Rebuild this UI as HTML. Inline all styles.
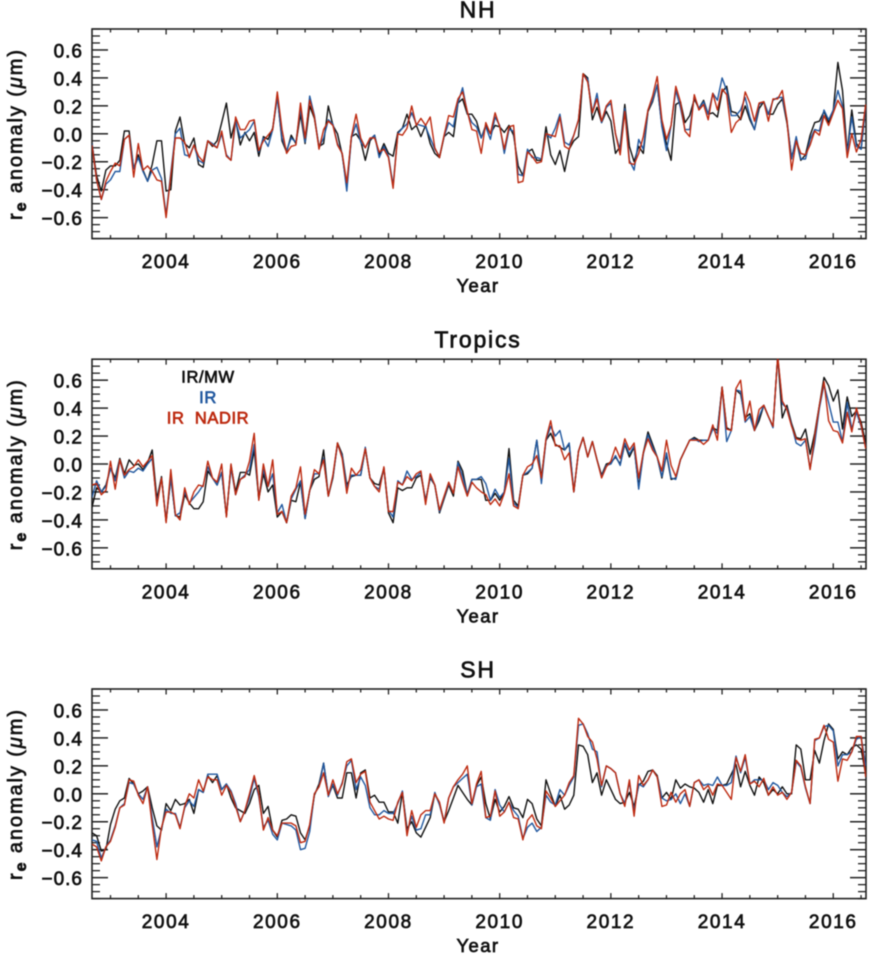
<!DOCTYPE html>
<html lang="en">
<head>
<meta charset="utf-8">
<title>Effective radius anomaly time series</title>
<style>
html,body{margin:0;padding:0;background:#fff;}
#figure{display:block;width:880px;height:960px;filter:blur(0.45px);}
text{font-family:"Liberation Sans",sans-serif;fill:#111;stroke:#111;stroke-width:0.7px;}
</style>
</head>
<body>
<svg id="figure" xmlns="http://www.w3.org/2000/svg" width="880" height="960" viewBox="0 0 880 960">
  <defs>
    <clipPath id="clip-nh"><rect x="92" y="29" width="774" height="210"></rect></clipPath>
    <clipPath id="clip-tropics"><rect x="92" y="359" width="774" height="210"></rect></clipPath>
    <clipPath id="clip-sh"><rect x="92" y="689" width="774" height="210"></rect></clipPath>
  </defs>
</svg>
<script>
const startYear = 2002.667;
const monthsPerYear = 12;
const xTickYears = [2003,2003.5,2004,2004.5,2005,2005.5,2006,2006.5,2007,2007.5,2008,2008.5,2009,2009.5,2010,2010.5,2011,2011.5,2012,2012.5,2013,2013.5,2014,2014.5,2015,2015.5,2016,2016.5];
const xLabelYears = [2004,2006,2008,2010,2012,2014,2016];
const yLabelValues = [0.6,0.4,0.2,0.0,-0.2,-0.4,-0.6];
const yMinorValues = [0.75,0.7,0.65,0.55,0.5,0.45,0.35,0.3,0.25,0.15,0.1,0.05,-0.05,-0.1,-0.15,-0.25,-0.3,-0.35,-0.45,-0.5,-0.55,-0.65,-0.7,-0.75];
const legendLabels = ["IR/MW","IR","IR  NADIR"];

const nhBlack = [
-.07,-.30,-.41,-.26,-.23,-.23,-.19,.02,.02,-.25,
-.15,-.26,-.34,-.22,-.05,-.05,-.41,-.40,.02,.12,
-.07,-.10,-.03,-.22,-.24,-.05,-.09,-.05,.08,.22,
-.03,.10,-.08,.01,-.05,.01,-.16,-.02,-.04,.04,
.27,-.05,-.13,-.01,-.07,.14,-.07,.20,.11,-.09,
-.07,.20,.06,0,-.15,-.38,-.02,0,-.05,-.19,
-.05,-.01,-.15,-.07,-.14,-.16,.01,.04,.14,.03,
.06,-.02,.06,-.07,-.14,-.17,-.02,.01,-.02,.22,
.25,.14,.14,.09,-.03,.06,0,.06,.05,.01,
.06,-.01,-.23,-.30,-.13,-.11,-.19,-.19,.05,-.15,
-.22,-.12,-.27,-.11,-.05,-.02,.43,.40,.10,.19,
.08,.16,.09,-.14,-.09,.21,-.09,-.20,-.09,-.14,
.16,.23,.35,.06,-.07,-.19,.21,.23,.08,.13,
.25,.18,.24,.14,.15,.12,.30,.34,.16,.15,
.10,.20,.10,.03,.18,.23,.14,.14,.21,.25,
.08,-.17,-.04,-.19,-.15,-.01,.08,.09,.16,.08,
.17,.51,.31,-.13,.17,-.07,-.11,.20];
const nhBlue = [
-.07,-.33,-.47,-.36,-.33,-.27,-.27,-.04,-.01,-.25,
-.17,-.27,-.34,-.26,-.24,-.32,-.58,-.28,0,.04,
-.15,-.16,-.08,-.19,-.21,-.05,-.07,-.10,0,-.15,
-.19,.09,-.03,0,.03,.09,-.13,-.03,-.09,.03,
.26,-.03,-.12,-.03,-.06,.18,-.06,.27,.13,-.10,
-.03,.10,.07,-.07,-.14,-.41,-.03,.07,-.06,-.10,
-.04,-.01,-.17,-.09,-.16,-.37,0,.04,.07,.15,
.07,.06,.05,-.03,-.11,-.16,-.02,.08,.05,.22,
.33,.15,.08,.05,-.03,.05,-.04,.12,.06,-.14,
.03,.02,-.29,-.30,-.11,-.17,-.17,-.18,0,-.03,
.04,.14,-.06,-.08,-.01,.10,.42,.39,.15,.29,
.08,.19,.22,0,-.12,.18,-.19,-.26,-.04,-.11,
.17,.24,.35,.05,-.12,.06,.31,.19,.03,.03,
.27,.18,.23,.14,.29,.24,.40,.31,.13,.13,
.17,.26,.12,.03,.21,.23,.14,.24,.26,.26,
.10,-.18,-.02,-.18,-.18,-.04,.03,.02,.17,.10,
.17,.31,.20,-.14,.12,-.09,-.11,.20];
const nhRed = [
-.08,-.33,-.47,-.34,-.27,-.21,-.23,-.04,-.01,-.31,
-.07,-.26,-.23,-.27,-.33,-.34,-.60,-.30,-.03,-.03,
-.06,-.17,-.08,-.16,-.20,-.05,-.08,-.10,.02,-.16,
-.19,.12,.03,.03,.09,.10,-.12,-.05,-.01,.03,
.30,.03,-.14,-.09,-.08,.22,-.03,.24,.12,-.11,
.03,.09,.06,-.08,-.14,-.35,-.02,.14,-.03,-.10,
-.03,-.03,-.13,-.11,-.17,-.39,0,-.01,.04,.20,
.06,.11,.06,.12,-.10,-.17,-.01,.13,.12,.25,
.30,.16,.03,.02,-.14,.08,0,.15,.05,-.11,
.05,.06,-.35,-.34,-.13,-.16,-.21,-.20,0,-.01,
-.02,.12,-.09,-.11,-.01,.10,.43,.37,.15,.25,
.09,.20,.24,0,-.15,.16,-.21,-.22,-.14,-.02,
.17,.27,.41,.10,-.04,.06,.34,.23,.02,-.02,
.28,.17,.21,.10,.29,.17,.32,.28,.01,.08,
.11,.30,.22,.09,.22,.23,.09,.25,.25,.31,
.10,-.26,-.05,-.14,-.15,-.08,.02,-.01,.13,.06,
.15,.24,.18,-.17,0,-.13,-.04,.21];

const tropicsBlack = [
-.31,-.17,-.20,-.15,-.03,-.10,.04,-.07,.03,-.01,
0,-.04,.01,.10,-.25,-.09,-.41,-.10,-.37,-.38,
-.22,-.28,-.32,-.32,-.27,-.05,-.10,-.15,-.06,-.37,
-.01,-.20,-.06,-.06,-.08,.10,-.25,-.07,-.20,-.15,
-.38,-.34,-.42,-.26,-.27,-.13,-.39,-.19,-.11,-.09,
.10,-.23,-.10,.15,.07,-.15,-.09,-.08,-.08,.11,
-.10,-.14,-.15,-.03,-.35,-.42,-.17,-.19,-.17,-.17,
-.10,-.08,-.26,-.10,-.15,-.35,-.25,-.15,-.23,.02,
-.05,-.22,-.11,-.11,-.11,-.26,-.26,-.21,-.26,-.20,
.11,-.26,-.30,-.08,-.07,-.03,.17,-.10,.17,.22,
.14,.12,.10,.14,-.20,.09,.19,.05,.16,.03,
-.08,0,.01,.05,0,.14,.05,.12,-.16,.08,
.23,.14,.05,-.10,.07,-.11,-.10,.03,.10,.17,
.19,.17,.17,.17,.26,.24,.55,.26,.24,.53,
.50,.33,.36,.24,.31,.42,.34,.27,.77,.33,
.42,.29,.19,.18,.25,.07,.22,.42,.62,.56,
.45,.53,.25,.48,.34,.38,.30,.15];
const tropicsBlue = [
-.24,-.12,-.20,-.16,-.03,-.12,.03,-.10,-.05,-.06,
-.03,-.05,0,.04,-.28,-.10,-.40,-.10,-.37,-.35,
-.20,-.28,-.24,-.20,-.15,-.02,-.10,-.15,-.06,-.37,
-.03,-.22,-.11,-.08,-.04,.14,-.24,-.04,-.16,-.07,
-.35,-.29,-.42,-.25,-.18,-.12,-.39,-.19,-.07,-.07,
.04,-.23,-.09,.14,.06,-.17,-.08,-.08,-.08,.12,
-.10,-.16,-.18,-.03,-.33,-.38,-.12,-.15,-.05,-.11,
-.09,-.06,-.27,-.09,-.15,-.34,-.24,-.14,-.21,.01,
-.09,-.22,-.11,-.11,-.09,-.14,-.26,-.18,-.24,-.20,
.04,-.28,-.31,-.08,-.06,-.03,.17,-.14,.17,.27,
.20,.24,.10,.15,-.20,.09,.19,.05,.16,.03,
-.09,-.01,0,.06,-.01,.15,.07,.13,-.18,.07,
.21,.12,.05,-.09,.08,-.10,-.11,.03,.10,.17,
.18,.16,.17,.17,.25,.22,.55,.16,.24,.53,
.52,.30,.34,.24,.34,.42,.34,.26,.77,.43,
.40,.28,.15,.13,.17,-.03,.15,.40,.57,.44,
.30,.30,.16,.44,.25,.37,.27,.12];
const tropicsRed = [
-.15,-.14,-.22,-.19,.02,-.18,.03,-.08,-.04,-.02,
.03,-.02,.02,.06,-.30,-.10,-.42,-.04,-.36,-.40,
-.17,-.29,-.20,-.15,-.16,.02,-.10,-.13,0,-.38,
0,-.22,-.11,-.09,.02,.22,-.26,0,-.16,.03,
-.36,-.34,-.42,-.23,-.17,-.02,-.36,-.19,-.04,-.07,
.03,-.23,-.08,.15,.04,-.21,-.03,-.08,-.04,.11,
-.10,-.16,-.20,-.02,-.34,-.34,-.13,-.15,-.09,-.12,
-.07,-.05,-.29,-.07,-.15,-.33,-.23,-.13,-.21,-.02,
-.13,-.23,-.13,-.17,-.20,-.22,-.29,-.25,-.30,-.21,
-.07,-.30,-.32,-.08,-.02,0,.06,-.10,.18,.31,
.13,.13,.03,.08,-.20,.09,.19,.05,.16,.03,
-.10,-.02,.02,.12,.04,.18,.10,.15,-.10,.08,
.18,.10,.05,-.05,.17,-.01,-.09,.03,.10,.17,
.17,.17,.14,.17,.28,.17,.55,.25,.24,.54,
.60,.31,.45,.24,.39,.42,.34,.27,.77,.45,
.39,.27,.18,.17,.18,-.04,.20,.42,.59,.31,
.24,.23,.15,.37,.23,.40,.28,.11];

const shBlack = [
-.28,-.30,-.41,-.40,-.22,-.11,-.05,-.03,.11,.07,
0,.02,.05,-.10,-.23,-.26,-.07,-.12,-.04,-.08,
-.07,-.04,-.14,.03,.01,.13,.08,.13,.03,.07,
-.03,-.10,-.12,-.14,-.07,.03,.06,-.14,-.09,-.26,
-.31,-.19,-.18,-.15,-.16,-.28,-.33,-.23,-.01,.07,
.22,-.01,.06,-.03,-.03,.15,.15,-.03,.15,.17,
-.03,-.01,-.06,-.06,-.13,-.13,-.21,.01,-.25,-.20,
-.28,-.31,-.24,-.17,0,-.07,-.20,-.12,-.03,.06,
.01,-.04,-.08,.06,.12,-.07,-.18,-.04,-.13,-.09,
-.02,-.10,-.11,-.17,-.04,-.07,-.18,-.23,.10,0,
-.09,-.01,-.11,-.08,-.01,.35,.34,.28,.08,.15,
-.01,.10,.03,-.04,-.07,-.06,.01,-.09,.06,.09,
.16,.17,.13,-.03,.01,-.04,.10,.04,.07,.05,
.04,.01,-.06,.03,-.07,.06,.06,.07,.14,.21,
.05,.16,.06,-.01,.12,.08,-.01,.03,0,.05,
0,0,.35,.32,.10,.10,.31,.22,.38,.50,
.46,.25,.30,.28,.33,.35,.32,.14];
const shBlue = [
-.33,-.34,-.46,-.38,-.33,-.23,-.10,-.07,.08,.07,
0,-.04,.05,-.17,-.38,-.25,-.11,-.14,-.14,-.24,
-.10,-.05,-.09,.03,.01,.14,.14,.14,.03,.07,
.02,-.07,-.20,-.12,-.03,.11,-.02,-.24,-.19,-.29,
-.33,-.21,-.22,-.23,-.26,-.40,-.39,-.27,0,.05,
.22,-.02,.07,-.01,.08,.20,.24,.03,.12,.06,
-.10,-.15,-.15,-.12,-.14,-.14,-.07,.02,-.28,-.16,
-.26,-.25,-.15,-.15,.01,-.08,-.20,-.03,.05,.08,
.11,.14,-.08,.05,.07,-.17,-.19,.03,-.08,-.13,
-.06,-.12,-.16,-.32,-.24,-.21,-.27,-.24,-.01,-.06,
-.08,.03,-.01,.06,.12,.49,.50,.43,.32,.30,
.05,.20,.18,.15,0,-.07,.08,-.12,.07,.05,
.10,.17,.12,-.03,-.05,-.04,0,-.07,0,-.09,
.08,.10,.06,.07,.06,.12,.06,.06,.08,.27,
.15,.26,.07,.10,.10,.10,.03,.08,.06,.01,
-.02,.01,.23,.19,.04,-.07,.38,.40,.48,.49,
.45,.20,.28,.28,.30,.39,.41,.20];
const shRed = [
-.36,-.38,-.48,-.38,-.34,-.24,-.10,-.08,.10,.09,
-.01,-.07,.05,-.22,-.47,-.24,-.13,-.13,-.15,-.25,
-.09,0,-.03,.10,.02,.12,.10,.10,-.01,.06,
.01,-.09,-.20,-.12,0,.13,0,-.26,-.17,-.26,
-.30,-.21,-.21,-.21,-.23,-.35,-.34,-.22,0,.05,
.15,-.01,.10,0,.07,.23,.25,.08,.14,.16,
-.06,-.12,-.18,-.16,-.18,-.19,-.06,.01,-.30,-.12,
-.24,-.15,-.12,-.12,0,-.06,-.21,-.03,.05,.10,
.14,.20,-.07,.07,.16,-.17,-.16,.02,-.16,-.13,
-.06,-.17,-.18,-.33,-.19,-.15,-.23,-.25,.02,-.03,
-.09,-.05,-.01,.08,.13,.54,.50,.41,.37,.25,
.06,.20,.18,.15,0,-.09,.10,-.16,.13,.06,
.10,.17,.12,-.09,-.08,.01,-.06,0,.03,-.09,
.08,.10,.03,.06,-.01,.07,.06,.01,-.04,.26,
.16,.28,.07,.09,.05,.11,-.01,.05,-.01,.01,
-.04,.01,.24,.20,.05,-.07,.39,.40,.49,.39,
.37,.09,.25,.24,.30,.41,.41,.12];

const NS = "http://www.w3.org/2000/svg";
const svgRoot = document.getElementById("figure");
const plotLeft = 92, plotRight = 866, plotHeight = 209.6;
const yearMin = 2002.667, yearMax = 2016.589;
const valueMax = 0.75;
const axisColor = "#222";
const seriesColors = {black:"#111111", blue:"#21589f", red:"#bd2a10"};

function xScale(year){ return plotLeft + (year - yearMin) / (yearMax - yearMin) * (plotRight - plotLeft); }
function yScale(value, top){ return top + (valueMax - value) / (2 * valueMax) * plotHeight; }
function make(tag, parent, attrs){
  const el = document.createElementNS(NS, tag);
  for (const k in attrs) el.setAttribute(k, attrs[k]);
  parent.appendChild(el);
  return el;
}
function tick(parent, x1, y1, x2, y2, width, name){
  const el = make("line", parent, {x1:x1, y1:y1, x2:x2, y2:y2, stroke:axisColor, "stroke-width":width});
  
  
}
function drawSeries(parent, values, top, color, clipId, name){
  const pts = values.map(function(v, i){
    return xScale(startYear + i / monthsPerYear).toFixed(1) + "," + yScale(v, top).toFixed(1);
  }).join(" ");
  const line = make("polyline", parent, {points:pts, fill:"none", stroke:color, "stroke-width":1.4, "stroke-linejoin":"round", "clip-path":"url(#" + clipId + ")"});
  
  
}
function drawPanel(key, title, top, black, blue, red){
  const bottom = top + plotHeight;
  const g = make("g", svgRoot, {});
  
  

  const frame = make("rect", g, {x:plotLeft, y:top, width:plotRight - plotLeft, height:plotHeight, fill:"none", stroke:axisColor, "stroke-width":1.6});
  
  

  yLabelValues.forEach(function(v){
    const y = yScale(v, top);
    tick(g, plotLeft, y, plotLeft + 16, y, 1.5, key + '-y-major-tick-left');
    tick(g, plotRight, y, plotRight - 16, y, 1.5, key + '-y-major-tick-right');
    const lab = make("text", g, {x:83, y:y + 7.5, "text-anchor":"end", "font-size":19, "letter-spacing":"1px"});
    lab.textContent = (v < 0 ? "\u2212" : "") + Math.abs(v).toFixed(1);
    
    
  });
  yMinorValues.forEach(function(v){
    const y = yScale(v, top);
    tick(g, plotLeft, y, plotLeft + 8, y, 1.3, key + '-y-minor-tick-left');
    tick(g, plotRight, y, plotRight - 8, y, 1.3, key + '-y-minor-tick-right');
  });
  xTickYears.forEach(function(yr){
    const x = xScale(yr);
    const major = xLabelYears.indexOf(yr) >= 0;
    const len = major ? 5.5 : 3.5;
    tick(g, x, bottom, x, bottom - len, 1.3, key + '-x-tick-bottom');
    tick(g, x, top, x, top + len, 1.3, key + '-x-tick-top');
  });
  xLabelYears.forEach(function(yr){
    const lab = make("text", g, {x:xScale(yr), y:bottom + 29.5, "text-anchor":"middle", "font-size":19, "letter-spacing":"1.6px"});
    lab.textContent = String(yr);
    
    
  });

  drawSeries(g, black, top, seriesColors.black, "clip-" + key, key + '-line-ir-mw');
  drawSeries(g, blue, top, seriesColors.blue, "clip-" + key, key + '-line-ir');
  drawSeries(g, red, top, seriesColors.red, "clip-" + key, key + '-line-ir-nadir');

  const titleEl = make("text", g, {x:478, y:top - 11.5, "text-anchor":"middle", "font-size":23, "letter-spacing":"1.8px"});
  titleEl.textContent = title;
  
  

  const xTitle = make("text", g, {x:478, y:bottom + 53.5, "text-anchor":"middle", "font-size":18.5, "letter-spacing":"1.4px"});
  xTitle.textContent = "Year";
  
  

  const midY = top + 106;
  const yTitle = make("text", g, {transform:"translate(22," + midY + ") rotate(-90)", "text-anchor":"middle", "font-size":20, "textLength":170, "lengthAdjust":"spacing"});
  
  
  const t1 = make("tspan", yTitle, {});
  t1.textContent = "r";
  const t2 = make("tspan", yTitle, {dy:4, "font-size":16, "font-weight":"bold"});
  t2.textContent = "e";
  const t3 = make("tspan", yTitle, {dy:-4});
  t3.textContent = " anomaly (";
  const t4 = make("tspan", yTitle, {"font-style":"italic"});
  t4.textContent = "\u03bc";
  const t5 = make("tspan", yTitle, {});
  t5.textContent = "m)";
}

drawPanel("nh", "NH", 29, nhBlack, nhBlue, nhRed);
drawPanel("tropics", "Tropics", 359.2, tropicsBlack, tropicsBlue, tropicsRed);
drawPanel("sh", "SH", 689, shBlack, shBlue, shRed);

const legendGroup = make("g", svgRoot, {});


const legendColors = [seriesColors.black, "#21589f", "#bd2a10"];
const legendNames = ['legend-entry-ir-mw', 'legend-entry-ir', 'legend-entry-ir-nadir'];
const legendBaselines = [382.5, 403, 423.5];
legendLabels.forEach(function(label, i){
  const t = make("text", legendGroup, {x:208, y:legendBaselines[i], "text-anchor":"middle", "font-size":16.5, "letter-spacing":"0.6px", "xml:space":"preserve", style:"white-space:pre;fill:" + legendColors[i] + ";stroke:" + legendColors[i]});
  t.textContent = label;
  
  
});
</script>
</body>
</html>
